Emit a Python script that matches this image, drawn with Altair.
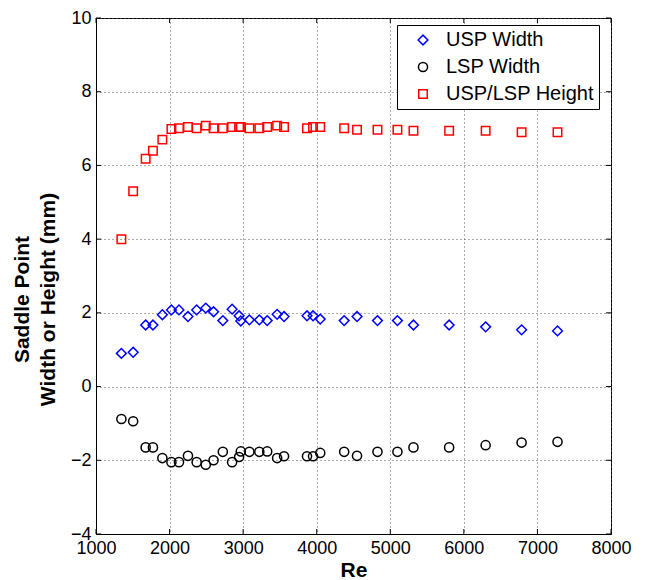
import altair as alt
import pandas as pd

# ---- data ----
re_vals = [1345, 1505, 1675, 1774, 1902, 2025, 2128, 2250, 2368, 2492, 2598, 2724,
           2850, 2945, 2968, 3085, 3220, 3327, 3462, 3556, 3868, 3950, 4048, 4373,
           4548, 4826, 5097, 5315, 5800, 6296, 6785, 7273]
usp_width = [0.90, 0.93, 1.67, 1.67, 1.95, 2.08, 2.08, 1.90, 2.08, 2.13, 2.03, 1.79,
             2.10, 1.92, 1.78, 1.81, 1.81, 1.79, 1.96, 1.90, 1.92, 1.92, 1.83, 1.79,
             1.90, 1.79, 1.79, 1.67, 1.67, 1.62, 1.54, 1.51]
lsp_width = [-0.88, -0.94, -1.65, -1.65, -1.94, -2.05, -2.05, -1.88, -2.05, -2.12, -2.00, -1.77,
             -2.05, -1.91, -1.76, -1.77, -1.77, -1.76, -1.94, -1.89, -1.89, -1.89, -1.80, -1.77,
             -1.88, -1.77, -1.77, -1.65, -1.65, -1.59, -1.52, -1.50]
usp_lsp_height = [4.00, 5.30, 6.18, 6.40, 6.70, 6.99, 7.01, 7.04, 7.01, 7.08, 7.01, 7.01,
                  7.04, 7.04, 7.04, 7.01, 7.01, 7.04, 7.08, 7.04, 7.01, 7.04, 7.04, 7.01,
                  6.97, 6.97, 6.97, 6.94, 6.94, 6.94, 6.90, 6.90]

series_names = ["USP Width", "LSP Width", "USP/LSP Height"]
series_colors = ["#0000ff", "#000000", "#ff0000"]
series_shapes = ["diamond", "circle", "square"]
series_sizes = [95, 72, 55]

x_ticks = [1000, 2000, 3000, 4000, 5000, 6000, 7000, 8000]
y_ticks = [-4, -2, 0, 2, 4, 6, 8, 10]

rows = []
for name, vals in zip(series_names, [usp_width, lsp_width, usp_lsp_height]):
    for r, v in zip(re_vals, vals):
        rows.append({"Re": r, "value": v, "series": name})
df = pd.DataFrame(rows)

xt_df = pd.DataFrame({"Re": x_ticks})
yt_df = pd.DataFrame({"value": y_ticks})

W, H = 515, 516
FONT = "Liberation Sans"
TICK = 5

x_scale = alt.Scale(domain=[1000, 8000], nice=False, zero=False)
y_scale = alt.Scale(domain=[-4, 10], nice=False, zero=False)

legend = alt.Legend(
    title=None, orient="none", legendX=301, legendY=7,
    padding=5, rowPadding=7, labelFontSize=20, labelFont=FONT, labelColor="#000",
    symbolOffset=11, labelOffset=13, strokeColor="#000", fillColor="#fff",
    symbolSize=60, symbolStrokeWidth=1.5, symbolFillColor="transparent",
)

points = alt.Chart(df).mark_point(filled=False, strokeWidth=1.5, opacity=1).encode(
    x=alt.X("Re:Q", scale=x_scale,
            axis=alt.Axis(values=x_ticks, format="d", title="Re", grid=True,
                          titlePadding=2)),
    y=alt.Y("value:Q", scale=y_scale,
            axis=alt.Axis(values=y_ticks, format="d", grid=True,
                          title=["Saddle Point", "Width or Height (mm)"],
                          titleAngle=270, titleX=-74, titleY=281,
                          titleAlign="center", titleBaseline="middle",
                          titleLineHeight=26)),
    color=alt.Color("series:N", scale=alt.Scale(domain=series_names, range=series_colors),
                    legend=legend),
    shape=alt.Shape("series:N", scale=alt.Scale(domain=series_names, range=series_shapes),
                    legend=legend),
    size=alt.Size("series:N", scale=alt.Scale(domain=series_names, range=series_sizes),
                  legend=None),
)

tick_style = dict(color="#000", strokeWidth=1)
xt_bottom = alt.Chart(xt_df).mark_rule(**tick_style).encode(
    x=alt.X("Re:Q", scale=x_scale), y=alt.value(H), y2=alt.value(H - TICK))
xt_top = alt.Chart(xt_df).mark_rule(**tick_style).encode(
    x=alt.X("Re:Q", scale=x_scale), y=alt.value(0), y2=alt.value(TICK))
yt_left = alt.Chart(yt_df).mark_rule(**tick_style).encode(
    y=alt.Y("value:Q", scale=y_scale), x=alt.value(0), x2=alt.value(TICK))
yt_right = alt.Chart(yt_df).mark_rule(**tick_style).encode(
    y=alt.Y("value:Q", scale=y_scale), x=alt.value(W - TICK), x2=alt.value(W))

chart = alt.layer(points, xt_bottom, xt_top, yt_left, yt_right).properties(
    width=W, height=H,
    autosize=alt.AutoSizeParams(type="none"),
    padding={"left": 88, "top": 10, "right": 29, "bottom": 46},
    background="#ffffff",
).configure_view(
    stroke="#000", strokeWidth=1
).configure_axis(
    domainColor="#000", domainWidth=1, tickSize=0, labelPadding=5,
    labelFont=FONT, labelFontSize=18, labelColor="#000",
    titleFont=FONT, titleFontSize=21, titleFontWeight="bold", titleColor="#000",
    gridColor="#555", gridDash=[1, 3], gridWidth=1, gridOpacity=1,
    labelFlush=False, labelOverlap=False,
)

chart.save("out.html", embed_options={"renderer": "svg", "actions": False})
